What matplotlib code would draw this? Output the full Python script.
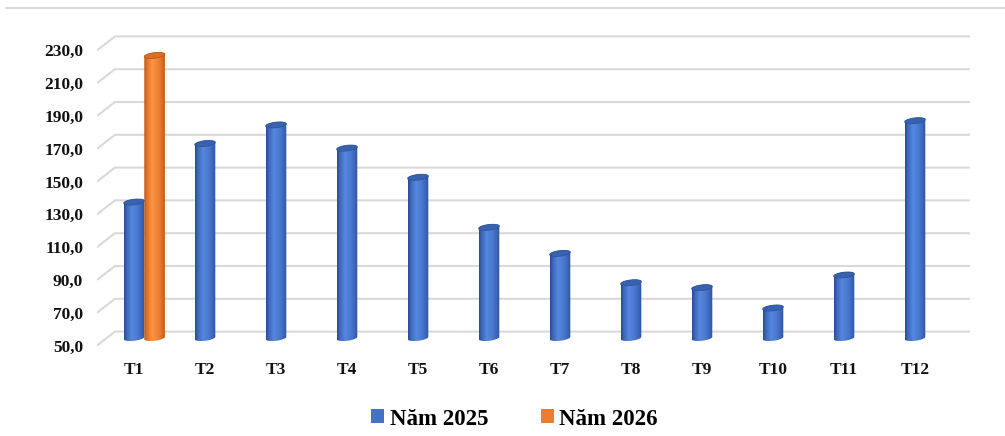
import numpy as np
import matplotlib
matplotlib.use('Agg')
import matplotlib.pyplot as plt
from matplotlib.patches import Polygon, Patch
from matplotlib.lines import Line2D

# Data
months = ['T1', 'T2', 'T3', 'T4', 'T5', 'T6', 'T7', 'T8', 'T9', 'T10', 'T11', 'T12']
values_2025 = [132.9, 168.6, 179.9, 165.8, 148.0, 117.5, 101.6, 83.7, 80.7, 68.3, 88.4, 182.5]
months_2026 = ['T1']
values_2026 = [222.3]
series_names = ['Năm 2025', 'Năm 2026']
y_ticks = [50, 70, 90, 110, 130, 150, 170, 190, 210, 230]

# Style
blue = '#4472C4'
orange = '#ED7D31'
grid_col = '#D9D9D9'
font = 'Liberation Serif'

base = 50.0
bar_w = 0.29
back_shift = 3.9    # back wall is a bit higher than the bar plane
front_shift = 4.6   # front edge of the floor is lower
ell_h = 3.4         # height of the cylinder caps in data units
tilt = 0.7          # right side of caps slightly higher
wall_x = -0.268

# gradient stops across a cylinder (left edge -> right edge)
blue_stops = [(0.0, (0.16, 0.29, 0.55)), (0.12, (0.23, 0.40, 0.72)), (0.38, (0.34, 0.53, 0.87)),
              (0.7, (0.28, 0.46, 0.80)), (0.92, (0.21, 0.37, 0.68)), (1.0, (0.16, 0.29, 0.55))]
orange_stops = [(0.0, (0.72, 0.34, 0.08)), (0.12, (0.87, 0.44, 0.15)), (0.38, (0.98, 0.58, 0.27)),
                (0.7, (0.94, 0.50, 0.20)), (0.92, (0.83, 0.41, 0.12)), (1.0, (0.72, 0.34, 0.08))]


def gradient_row(stops, n=64):
    t = np.linspace(0, 1, n)
    pos = [s[0] for s in stops]
    rgb = np.array([s[1] for s in stops])
    row = np.stack([np.interp(t, pos, rgb[:, k]) for k in range(3)], axis=-1)
    return row[np.newaxis, :, :]


def ellipse_pts(xc, yc, theta):
    c = np.cos(theta)
    return xc + bar_w / 2 * c, yc + ell_h / 2 * np.sin(theta) + tilt * c


def cylinder(ax, xc, top, stops, cap_face, cap_edge):
    x0, x1 = xc - bar_w / 2, xc + bar_w / 2
    bx, by = ellipse_pts(xc, base, np.linspace(np.pi, 2 * np.pi, 40))
    tx, ty = ellipse_pts(xc, top, np.linspace(0, np.pi, 40))
    pts = list(zip(bx, by)) + list(zip(tx, ty))
    poly = Polygon(pts, closed=True, facecolor='none', edgecolor='none')
    ax.add_patch(poly)
    im = ax.imshow(gradient_row(stops), extent=(x0, x1, base - ell_h, top + ell_h),
                   aspect='auto', origin='lower', interpolation='bilinear', zorder=3)
    im.set_clip_path(poly)
    cx, cy = ellipse_pts(xc, top, np.linspace(0, 2 * np.pi, 80))
    ax.add_patch(Polygon(list(zip(cx, cy)), closed=True, facecolor=cap_face,
                         edgecolor=cap_edge, lw=0.6, zorder=4))


fig = plt.figure(figsize=(10.05, 4.36), dpi=100)
ax = fig.add_axes([97 / 1005, 1 - 350 / 436, (970 - 97) / 1005, 320 / 436])

x_left = -0.521
x_right = 11.775

# perspective grid: short floor diagonal + back wall line
for v in y_ticks:
    ax.plot([x_left, wall_x, x_right], [v - front_shift, v + back_shift, v + back_shift],
            color=grid_col, lw=1.5, zorder=1, solid_capstyle='butt')

x = np.arange(len(months))
for xi, v in zip(x, values_2025):
    cylinder(ax, xi, v, blue_stops, '#3862B0', '#2F5597')
for m, v in zip(months_2026, values_2026):
    xi = months.index(m) + bar_w
    cylinder(ax, xi, v, orange_stops, '#DB6E24', '#B95A17')

ax.set_xlim(x_left, x_right)
ax.set_ylim(50 + (338 - 350) / 1.64, 50 + (338 - 30) / 1.64)

ax.set_yticks([v - front_shift for v in y_ticks])
ax.set_yticklabels([f'{v:.1f}'.replace('.', ',') for v in y_ticks])
ax.set_xticks(x)
ax.set_xticklabels(months)
ax.tick_params(axis='y', length=0, pad=10)
ax.tick_params(axis='x', length=0, pad=9)
for lab in ax.get_xticklabels() + ax.get_yticklabels():
    lab.set_fontfamily(font)
    lab.set_fontweight('bold')
    lab.set_fontsize(12.5)
    lab.set_color('#111111')
for s in ax.spines.values():
    s.set_visible(False)
ax.patch.set_alpha(0)

# thin border line across the top
fig.add_artist(Line2D([6 / 1005, 1], [1 - 8.3 / 436, 1 - 8.3 / 436], color=grid_col, lw=1.5))

handles = [Patch(facecolor=blue), Patch(facecolor=orange)]
fig.legend(handles, series_names, loc='center', bbox_to_anchor=(0.512, 1 - 419 / 436),
           ncol=2, frameon=False, handlelength=0.55, handleheight=0.55,
           handletextpad=0.25, columnspacing=2.3,
           prop={'family': font, 'weight': 'bold', 'size': 16.5})

fig.savefig('out.png', dpi=100)
